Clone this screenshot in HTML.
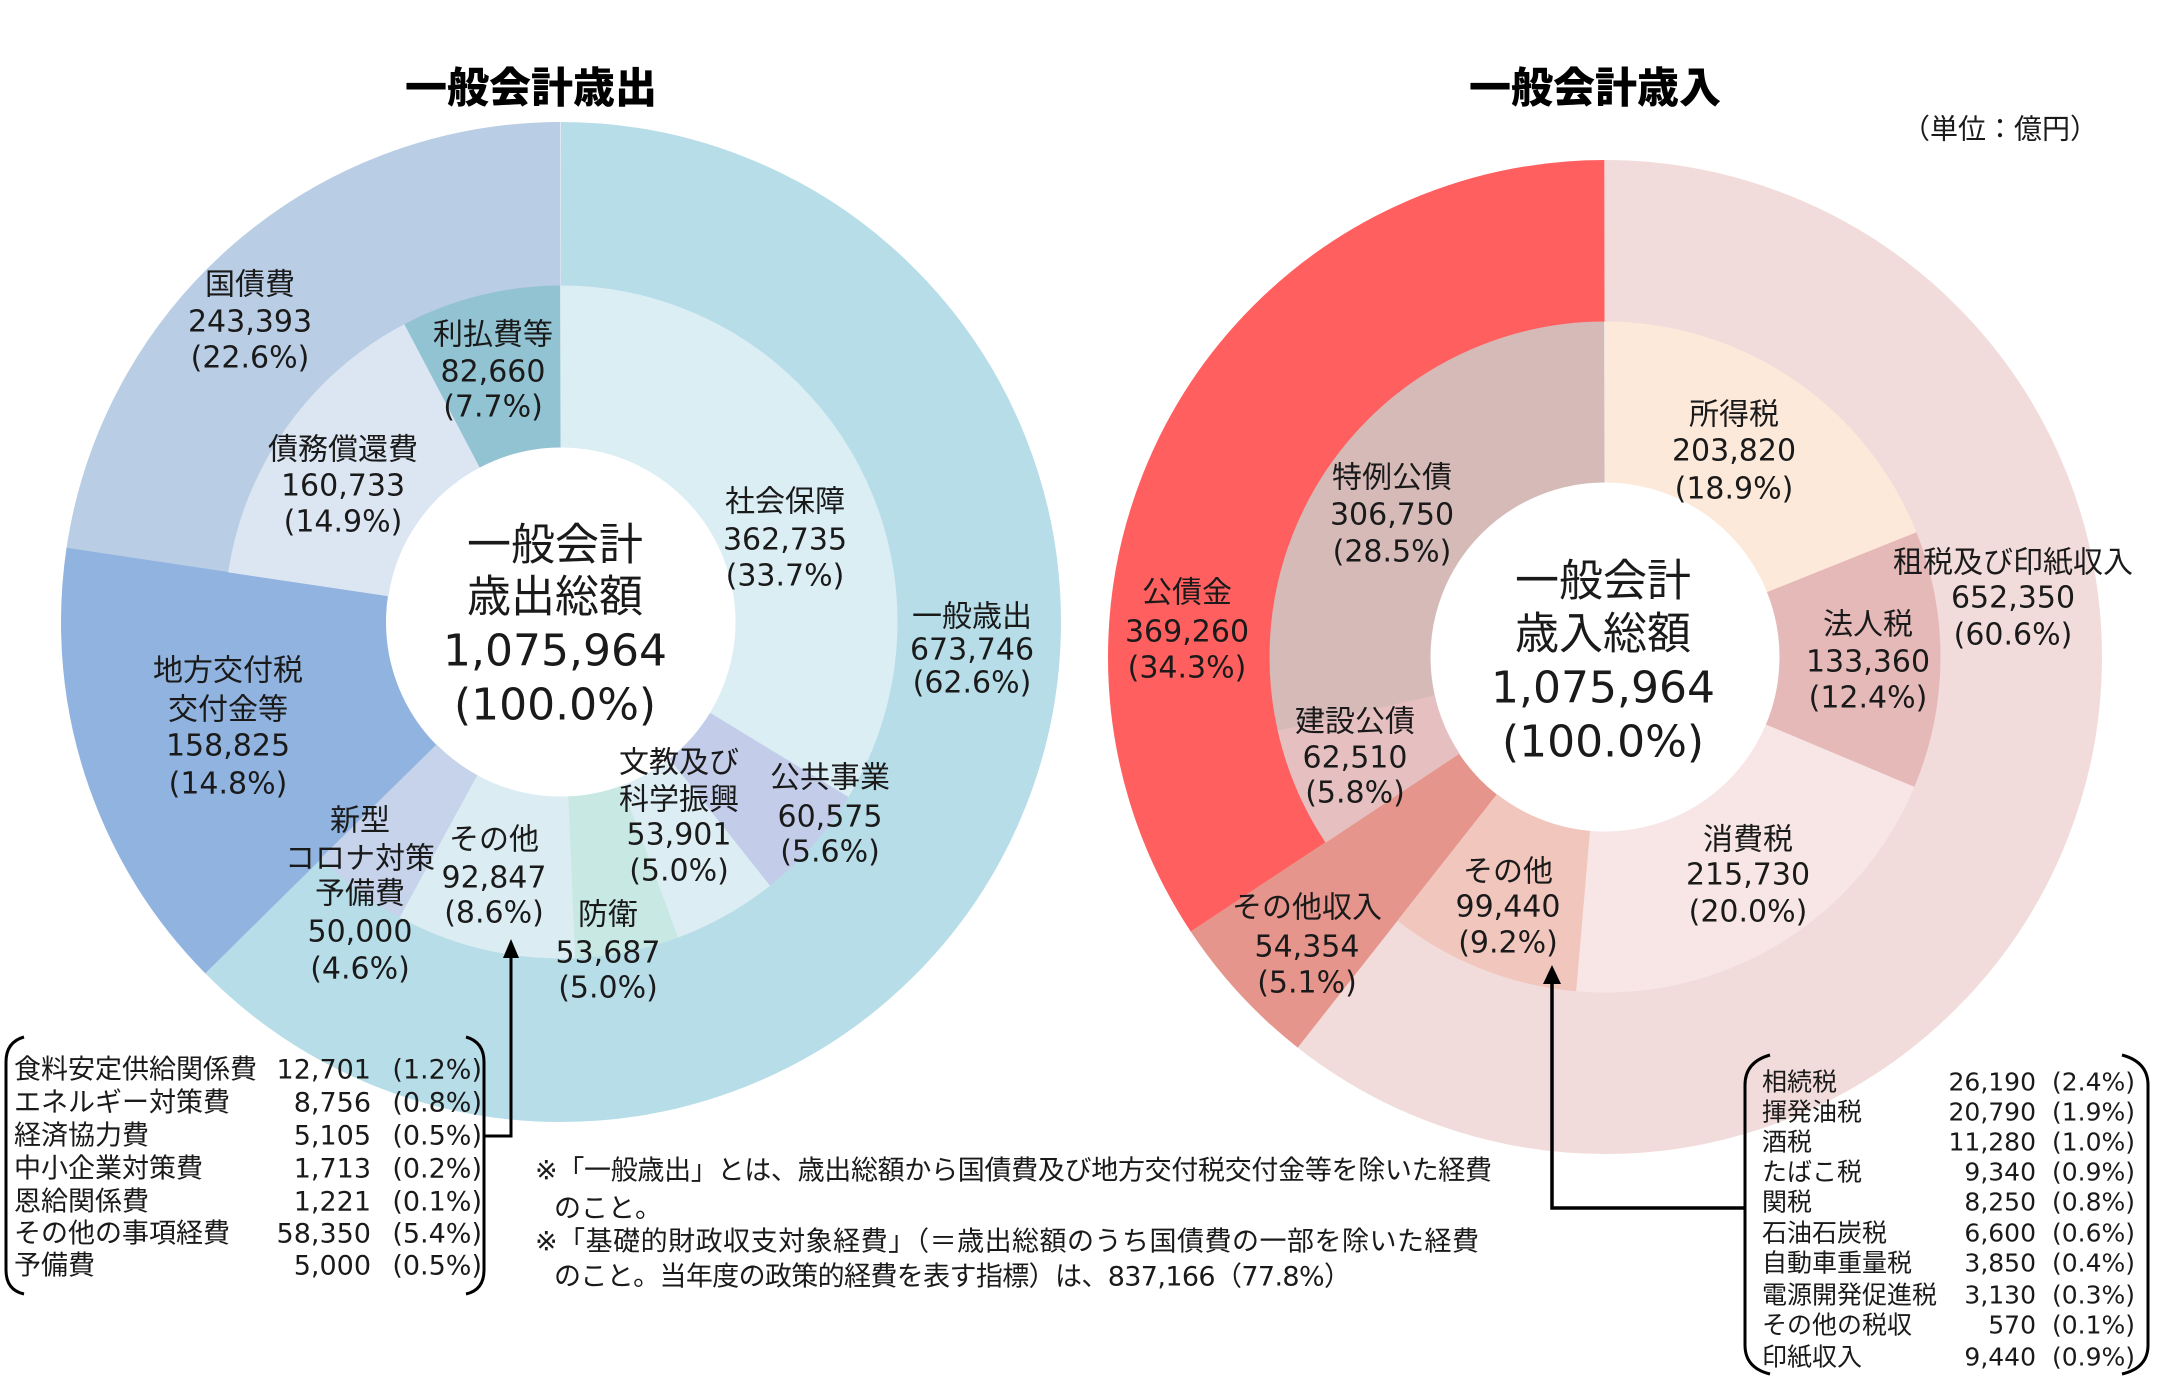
<!DOCTYPE html>
<html><head><meta charset="utf-8">
<style>
html,body{margin:0;padding:0;background:#fff;}
svg{display:block;}
text{font-family:"DejaVu Sans","Noto Sans CJK JP",sans-serif;fill:#1a1a1a;dominant-baseline:central;}
.l{font-size:30px;text-anchor:middle;}
.c{font-size:44px;text-anchor:middle;}
.t{font-family:"Noto Sans CJK JP","Liberation Sans",sans-serif;font-size:42px;font-weight:900;text-anchor:middle;fill:#000;}
.b{font-size:27px;}
.r{font-size:25px;}
.e{text-anchor:end;}
.f{font-size:27px;}
</style></head>
<body>
<svg width="2162" height="1386" viewBox="0 0 2162 1386" xmlns="http://www.w3.org/2000/svg">
<rect width="2162" height="1386" fill="#fff"/>

<!-- Titles -->
<text class="t" x="531" y="85">一般会計歳出</text>
<text class="t" x="1595" y="85">一般会計歳入</text>
<text x="1902" y="129" font-size="28" textLength="196">（単位：億円）</text>

<!-- LEFT DONUT -->
<g transform="rotate(-90 561 622)" fill="none">
  <circle cx="561" cy="622" r="418" stroke-width="164" pathLength="360" stroke="#b7dde8" stroke-dasharray="225.55 400" stroke-dashoffset="0"/>
  <circle cx="561" cy="622" r="418" stroke-width="164" pathLength="360" stroke="#b9cde5" stroke-dasharray="81.5 400" stroke-dashoffset="-278.5"/>
  <circle cx="561" cy="622" r="337.5" stroke-width="325" pathLength="360" stroke="#91b3e0" stroke-dasharray="53.2 400" stroke-dashoffset="-225.43"/>
  <circle cx="561" cy="622" r="255.5" stroke-width="162" pathLength="360" stroke="#dbeef4" stroke-dasharray="121.5 400" stroke-dashoffset="0"/>
  <circle cx="561" cy="622" r="255.5" stroke-width="162" pathLength="360" stroke="#c3cdea" stroke-dasharray="20.4 400" stroke-dashoffset="-121.37"/>
  <circle cx="561" cy="622" r="255.5" stroke-width="162" pathLength="360" stroke="#dcedf3" stroke-dasharray="18.15 400" stroke-dashoffset="-141.64"/>
  <circle cx="561" cy="622" r="255.5" stroke-width="162" pathLength="360" stroke="#c8e8e3" stroke-dasharray="18.1 400" stroke-dashoffset="-159.67"/>
  <circle cx="561" cy="622" r="255.5" stroke-width="162" pathLength="360" stroke="#dbedf3" stroke-dasharray="31.2 400" stroke-dashoffset="-177.64"/>
  <circle cx="561" cy="622" r="255.5" stroke-width="162" pathLength="360" stroke="#c6d3ea" stroke-dasharray="16.85 400" stroke-dashoffset="-208.7"/>
  <circle cx="561" cy="622" r="255.5" stroke-width="162" pathLength="360" stroke="#dce6f2" stroke-dasharray="53.9 400" stroke-dashoffset="-278.57"/>
  <circle cx="561" cy="622" r="255.5" stroke-width="162" pathLength="360" stroke="#92c3d3" stroke-dasharray="27.65 400" stroke-dashoffset="-332.35"/>
</g>

<!-- RIGHT DONUT -->
<g transform="rotate(-90 1605 657)" fill="none">
  <circle cx="1605" cy="657" r="416" stroke-width="162" pathLength="360" stroke="#f2dcdb" stroke-dasharray="218.4 400" stroke-dashoffset="0"/>
  <circle cx="1605" cy="657" r="416" stroke-width="162" pathLength="360" stroke="#ff5f5f" stroke-dasharray="123.55 400" stroke-dashoffset="-236.45"/>
  <circle cx="1605" cy="657" r="336" stroke-width="322" pathLength="360" stroke="#e6958c" stroke-dasharray="18.3 400" stroke-dashoffset="-218.26"/>
  <circle cx="1605" cy="657" r="255" stroke-width="161" pathLength="360" stroke="#fde9d9" stroke-dasharray="68.3 400" stroke-dashoffset="0"/>
  <circle cx="1605" cy="657" r="255" stroke-width="161" pathLength="360" stroke="#e6b9b9" stroke-dasharray="44.75 400" stroke-dashoffset="-68.19"/>
  <circle cx="1605" cy="657" r="255" stroke-width="161" pathLength="360" stroke="#f8e6e6" stroke-dasharray="72.3 400" stroke-dashoffset="-112.81"/>
  <circle cx="1605" cy="657" r="255" stroke-width="161" pathLength="360" stroke="#f1c6bd" stroke-dasharray="33.3 400" stroke-dashoffset="-184.99"/>
  <circle cx="1605" cy="657" r="255" stroke-width="161" pathLength="360" stroke="#e6c0c0" stroke-dasharray="21.05 400" stroke-dashoffset="-236.45"/>
  <circle cx="1605" cy="657" r="255" stroke-width="161" pathLength="360" stroke="#d5bab8" stroke-dasharray="102.63 400" stroke-dashoffset="-257.37"/>
</g>

<!-- LEFT LABELS -->
<text class="l" x="250" y="285">国債費</text>
<text class="l" x="250" y="322">243,393</text>
<text class="l" x="250" y="358">(22.6%)</text>

<text class="l" x="493" y="335">利払費等</text>
<text class="l" x="493" y="372">82,660</text>
<text class="l" x="493" y="407">(7.7%)</text>

<text class="l" x="343" y="450">債務償還費</text>
<text class="l" x="343" y="486">160,733</text>
<text class="l" x="343" y="522">(14.9%)</text>

<text class="l" x="785" y="502">社会保障</text>
<text class="l" x="785" y="540">362,735</text>
<text class="l" x="785" y="576">(33.7%)</text>

<text class="l" x="972" y="617">一般歳出</text>
<text class="l" x="972" y="650">673,746</text>
<text class="l" x="972" y="683">(62.6%)</text>

<text class="l" x="228" y="671">地方交付税</text>
<text class="l" x="228" y="710">交付金等</text>
<text class="l" x="228" y="746">158,825</text>
<text class="l" x="228" y="784">(14.8%)</text>

<text class="l" x="360" y="821">新型</text>
<text class="l" x="360" y="859">コロナ対策</text>
<text class="l" x="360" y="894">予備費</text>
<text class="l" x="360" y="932">50,000</text>
<text class="l" x="360" y="969">(4.6%)</text>

<text class="l" x="494" y="840">その他</text>
<text class="l" x="494" y="878">92,847</text>
<text class="l" x="494" y="913">(8.6%)</text>

<text class="l" x="608" y="915">防衛</text>
<text class="l" x="608" y="953">53,687</text>
<text class="l" x="608" y="988">(5.0%)</text>

<text class="l" x="679" y="763">文教及び</text>
<text class="l" x="679" y="800">科学振興</text>
<text class="l" x="679" y="835">53,901</text>
<text class="l" x="679" y="871">(5.0%)</text>

<text class="l" x="830" y="778">公共事業</text>
<text class="l" x="830" y="817">60,575</text>
<text class="l" x="830" y="852">(5.6%)</text>

<text class="c" x="555" y="545">一般会計</text>
<text class="c" x="555" y="597">歳出総額</text>
<text class="c" x="555" y="651">1,075,964</text>
<text class="c" x="555" y="705">(100.0%)</text>

<!-- RIGHT LABELS -->
<text class="l" x="1734" y="415">所得税</text>
<text class="l" x="1734" y="451">203,820</text>
<text class="l" x="1734" y="489">(18.9%)</text>

<text class="l" x="1392" y="478">特例公債</text>
<text class="l" x="1392" y="515">306,750</text>
<text class="l" x="1392" y="552">(28.5%)</text>

<text class="l" x="1187" y="593">公債金</text>
<text class="l" x="1187" y="632">369,260</text>
<text class="l" x="1187" y="668">(34.3%)</text>

<text class="l" x="1355" y="722">建設公債</text>
<text class="l" x="1355" y="758">62,510</text>
<text class="l" x="1355" y="793">(5.8%)</text>

<text class="l" x="2013" y="563">租税及び印紙収入</text>
<text class="l" x="2013" y="598">652,350</text>
<text class="l" x="2013" y="635">(60.6%)</text>

<text class="l" x="1868" y="625">法人税</text>
<text class="l" x="1868" y="662">133,360</text>
<text class="l" x="1868" y="698">(12.4%)</text>

<text class="l" x="1748" y="840">消費税</text>
<text class="l" x="1748" y="875">215,730</text>
<text class="l" x="1748" y="912">(20.0%)</text>

<text class="l" x="1508" y="872">その他</text>
<text class="l" x="1508" y="907">99,440</text>
<text class="l" x="1508" y="943">(9.2%)</text>

<text class="l" x="1307" y="908">その他収入</text>
<text class="l" x="1307" y="947">54,354</text>
<text class="l" x="1307" y="983">(5.1%)</text>

<text class="c" x="1603" y="581">一般会計</text>
<text class="c" x="1603" y="634">歳入総額</text>
<text class="c" x="1603" y="688">1,075,964</text>
<text class="c" x="1603" y="742">(100.0%)</text>

<!-- LEFT BOX -->
<g fill="none" stroke="#000" stroke-width="3">
  <path d="M 24 1037 Q 6 1042 6 1062 L 6 1270 Q 6 1290 24 1294"/>
  <path d="M 466 1037 Q 484 1042 484 1062 L 484 1270 Q 484 1290 466 1294"/>
  <polyline points="484,1136 511,1136 511,955"/>
</g>
<polygon points="511,939 503,958 519,958" fill="#000"/>

<text class="b" x="14" y="1070">食料安定供給関係費</text>
<text class="b" x="14" y="1103">エネルギー対策費</text>
<text class="b" x="14" y="1136">経済協力費</text>
<text class="b" x="14" y="1169">中小企業対策費</text>
<text class="b" x="14" y="1202">恩給関係費</text>
<text class="b" x="14" y="1234">その他の事項経費</text>
<text class="b" x="14" y="1266">予備費</text>
<text class="b e" x="371" y="1070">12,701</text>
<text class="b e" x="371" y="1103">8,756</text>
<text class="b e" x="371" y="1136">5,105</text>
<text class="b e" x="371" y="1169">1,713</text>
<text class="b e" x="371" y="1202">1,221</text>
<text class="b e" x="371" y="1234">58,350</text>
<text class="b e" x="371" y="1266">5,000</text>
<text class="b e" x="482" y="1070">(1.2%)</text>
<text class="b e" x="482" y="1103">(0.8%)</text>
<text class="b e" x="482" y="1136">(0.5%)</text>
<text class="b e" x="482" y="1169">(0.2%)</text>
<text class="b e" x="482" y="1202">(0.1%)</text>
<text class="b e" x="482" y="1234">(5.4%)</text>
<text class="b e" x="482" y="1266">(0.5%)</text>

<!-- RIGHT BOX -->
<g fill="none" stroke="#000" stroke-width="3">
  <path d="M 1770 1055 Q 1745 1062 1745 1085 L 1745 1345 Q 1745 1368 1770 1374"/>
  <path d="M 2122 1055 Q 2148 1062 2148 1085 L 2148 1345 Q 2148 1368 2122 1374"/>
</g>
<polyline points="1745,1208 1552,1208 1552,982" fill="none" stroke="#000" stroke-width="3.5"/>
<polygon points="1552,965 1543,984 1561,984" fill="#000"/>

<text class="r" x="1762" y="1082">相続税</text>
<text class="r" x="1762" y="1112">揮発油税</text>
<text class="r" x="1762" y="1142">酒税</text>
<text class="r" x="1762" y="1172">たばこ税</text>
<text class="r" x="1762" y="1202">関税</text>
<text class="r" x="1762" y="1233">石油石炭税</text>
<text class="r" x="1762" y="1263">自動車重量税</text>
<text class="r" x="1762" y="1295">電源開発促進税</text>
<text class="r" x="1762" y="1325">その他の税収</text>
<text class="r" x="1762" y="1357">印紙収入</text>
<text class="r e" x="2036" y="1082">26,190</text>
<text class="r e" x="2036" y="1112">20,790</text>
<text class="r e" x="2036" y="1142">11,280</text>
<text class="r e" x="2036" y="1172">9,340</text>
<text class="r e" x="2036" y="1202">8,250</text>
<text class="r e" x="2036" y="1233">6,600</text>
<text class="r e" x="2036" y="1263">3,850</text>
<text class="r e" x="2036" y="1295">3,130</text>
<text class="r e" x="2036" y="1325">570</text>
<text class="r e" x="2036" y="1357">9,440</text>
<text class="r e" x="2135" y="1082">(2.4%)</text>
<text class="r e" x="2135" y="1112">(1.9%)</text>
<text class="r e" x="2135" y="1142">(1.0%)</text>
<text class="r e" x="2135" y="1172">(0.9%)</text>
<text class="r e" x="2135" y="1202">(0.8%)</text>
<text class="r e" x="2135" y="1233">(0.6%)</text>
<text class="r e" x="2135" y="1263">(0.4%)</text>
<text class="r e" x="2135" y="1295">(0.3%)</text>
<text class="r e" x="2135" y="1325">(0.1%)</text>
<text class="r e" x="2135" y="1357">(0.9%)</text>

<!-- FOOTNOTES -->
<text class="f" x="535" y="1171" textLength="957">※「一般歳出」とは、歳出総額から国債費及び地方交付税交付金等を除いた経費</text>
<text class="f" x="554" y="1209">のこと。</text>
<text class="f" x="535" y="1242" textLength="944">※「基礎的財政収支対象経費」（＝歳出総額のうち国債費の一部を除いた経費</text>
<text class="f" x="554" y="1277" textLength="797">のこと。当年度の政策的経費を表す指標）は、837,166（77.8%）</text>
</svg>
</body></html>
